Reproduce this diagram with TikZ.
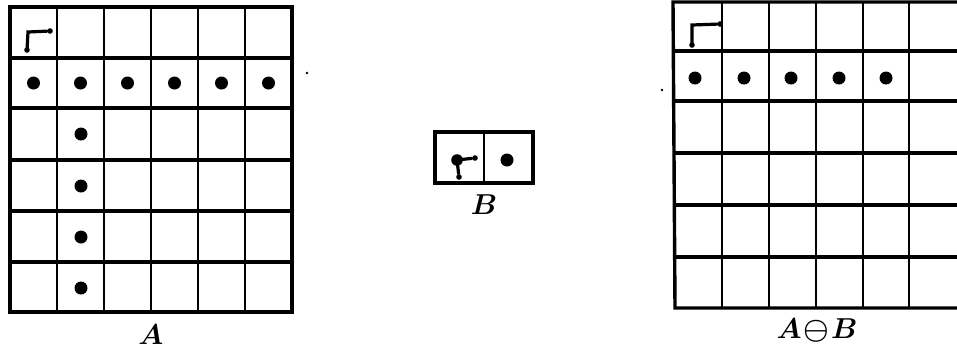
\documentclass[tikz,border=0pt]{standalone}
\usepackage{amsmath,amssymb}
\usepackage{tikz}
\usetikzlibrary{positioning}

\begin{document}
\begin{tikzpicture}[
    x=0.5pt, y=-0.5pt,
    frameline/.style={line width=1.7pt},
    rowline/.style={line width=1.7pt},
    colline/.style={line width=1pt},
    pixel/.style={circle, fill=black, inner sep=0pt, minimum size=6.5pt},
    speck/.style={circle, fill=black, inner sep=0pt, minimum size=1.4pt},
    tip/.style={circle, fill=black, inner sep=0pt, minimum size=2.8pt},
    originmark/.style={line width=1.6pt, line cap=round},
    caption/.style={font=\fontsize{14}{16}\selectfont\boldmath, inner sep=1pt},
]
    \useasboundingbox (0,0) rectangle (957,350);

    % image A (6 x 6)
    \draw[frameline] (10,7) rectangle (292,312);
    \foreach \y in {58,108,160,211,262} \draw[rowline] (10,\y) -- (292,\y);
    \foreach \x in {57,104,151,198,245} \draw[colline] (\x,7) -- (\x,312);
    \foreach \c in {1,...,6} \node[pixel] (a-2-\c) at ({10+47*(\c-0.5)},83) {};
    \foreach \r/\y in {3/134,4/186,5/237,6/288} \node[pixel] (a-\r-2) at (81,\y) {};
    \coordinate (a-o1) at (27,50);
    \coordinate (a-o2) at (28,32);
    \node[tip] (a-o3) at (50,31) {};
    \node[tip] at (a-o1) {};
    \draw[originmark] (a-o1) -- (a-o2) -- (a-o3);
    \node[speck] (a-speck) at (307,73) {};
    \coordinate (a-bottom) at (151,312);
    \node[caption, below=5pt of a-bottom] (labA) {$A$};

    % structuring element B
    \draw[frameline] (435,132) rectangle (533,183);
    \draw[colline] (484,132) -- (484,183);
    \node[pixel, minimum size=5.8pt] (b-1) at (457,160) {};
    \node[tip] (b-o1) at (475,158) {};
    \node[tip] (b-o2) at (459,177) {};
    \draw[originmark] (b-o2) -- (b-1.center) -- (b-o1);
    \node[pixel] (b-2) at (507,160) {};
    \coordinate (b-bottom) at (484,183);
    \node[caption, below=4.5pt of b-bottom] (labB) {$B$};

    % result A erosion B (cut at the right edge)
    \draw[frameline] (957,2) -- (673,2) -- (675,308) -- (957,308);
    \foreach \y in {51,101,153,205,257} \draw[rowline] (674,\y) -- (957,\y);
    \foreach \x in {722,769,816,863,909} \draw[colline] (\x,2) -- (\x,308);
    \foreach \c/\x in {1/695,2/744,3/791,4/839,5/886} \node[pixel] (r-2-\c) at (\x,78) {};
    \coordinate (r-o1) at (692,45);
    \coordinate (r-o2) at (692,25);
    \node[tip] (r-o3) at (720,24) {};
    \node[tip] at (r-o1) {};
    \draw[originmark] (r-o1) -- (r-o2) -- (r-o3);
    \node[speck] (r-speck) at (662,90) {};
    \coordinate (r-bottom) at (817,308);
    \node[caption, below=4pt of r-bottom] (labR) {$A\!\ominus\! B$};
\end{tikzpicture}
\end{document}
